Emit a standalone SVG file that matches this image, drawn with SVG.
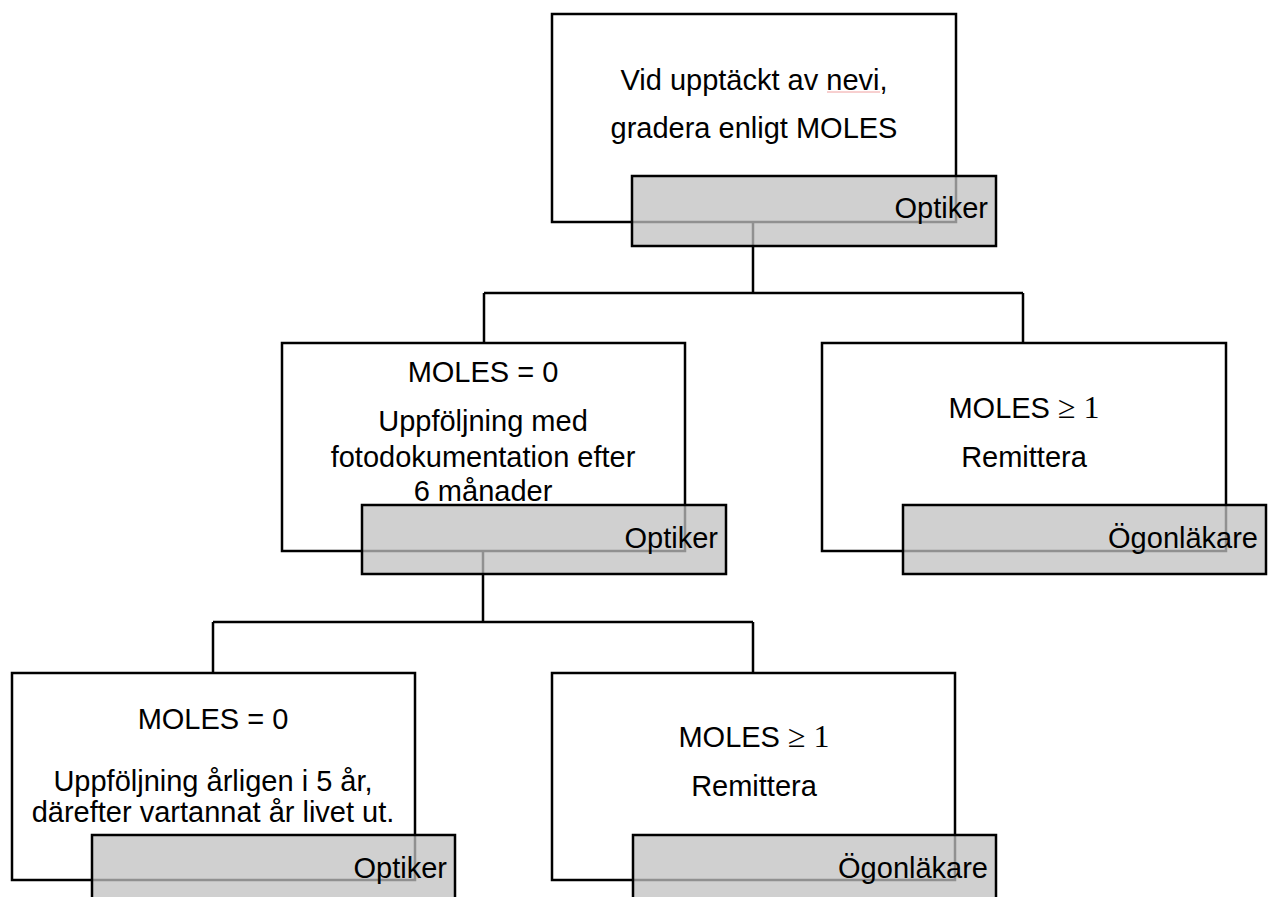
<svg xmlns="http://www.w3.org/2000/svg" width="1275" height="897" viewBox="0 0 1275 897">
<style>
.box{fill:#fff;stroke:#000;stroke-width:2.5}
.tag{fill:#c0c0c0;fill-opacity:0.75;stroke:#000;stroke-width:2.5}
.t{font-family:"Liberation Sans",Arial,sans-serif;font-size:29px;fill:#000;text-anchor:middle}
.r{font-family:"Liberation Sans",Arial,sans-serif;font-size:29px;fill:#000;text-anchor:end}
.m{font-family:"Liberation Serif","Times New Roman",serif;font-size:32px}
.c{fill:none;stroke:#000;stroke-width:2.5}
</style>
<rect width="1275" height="897" fill="#fff"/>
<g id="connectors">
<path class="c" d="M753,222 V293 M484,293 H1023 M484,293 V343 M1023,293 V343"/>
<path class="c" d="M483,551 V622 M213,622 H753 M213,622 V673 M753,622 V673"/>
</g>
<g id="node-start">
<rect class="box" x="552" y="14" width="404" height="208"/>
<text class="t" x="754" y="90">Vid upptäckt av nevi,</text>
<line x1="827" y1="92" x2="880" y2="92" stroke="#f0a0a0" stroke-width="1"/>
<text class="t" x="754" y="138">gradera enligt MOLES</text>
<rect class="tag" x="632" y="176" width="364" height="70"/>
<text class="r" x="988" y="218">Optiker</text>
</g>
<g id="node-moles0-a">
<rect class="box" x="282" y="343" width="403" height="208"/>
<text class="t" x="483" y="382">MOLES = 0</text>
<text class="t" x="483" y="431">Uppföljning med</text>
<text class="t" x="483" y="467">fotodokumentation efter</text>
<text class="t" x="483" y="501">6 månader</text>
<rect class="tag" x="362" y="505" width="364" height="69"/>
<text class="r" x="718" y="548">Optiker</text>
</g>
<g id="node-moles1-a">
<rect class="box" x="822" y="343" width="404" height="208"/>
<text class="t" x="1024" y="418">MOLES <tspan class="m">≥ 1</tspan></text>
<text class="t" x="1024" y="467">Remittera</text>
<rect class="tag" x="903" y="505" width="363" height="69"/>
<text class="r" x="1258" y="548">Ögonläkare</text>
</g>
<g id="node-moles0-b">
<rect class="box" x="12" y="673" width="403" height="207"/>
<text class="t" x="213" y="729">MOLES = 0</text>
<text class="t" x="213" y="791">Uppföljning årligen i 5 år,</text>
<text class="t" x="213" y="822">därefter vartannat år livet ut.</text>
<rect class="tag" x="92" y="835" width="363" height="80"/>
<text class="r" x="447" y="878">Optiker</text>
</g>
<g id="node-moles1-b">
<rect class="box" x="552" y="673" width="403" height="207"/>
<text class="t" x="754" y="747">MOLES <tspan class="m">≥ 1</tspan></text>
<text class="t" x="754" y="796">Remittera</text>
<rect class="tag" x="633" y="835" width="363" height="80"/>
<text class="r" x="988" y="878">Ögonläkare</text>
</g>
</svg>
